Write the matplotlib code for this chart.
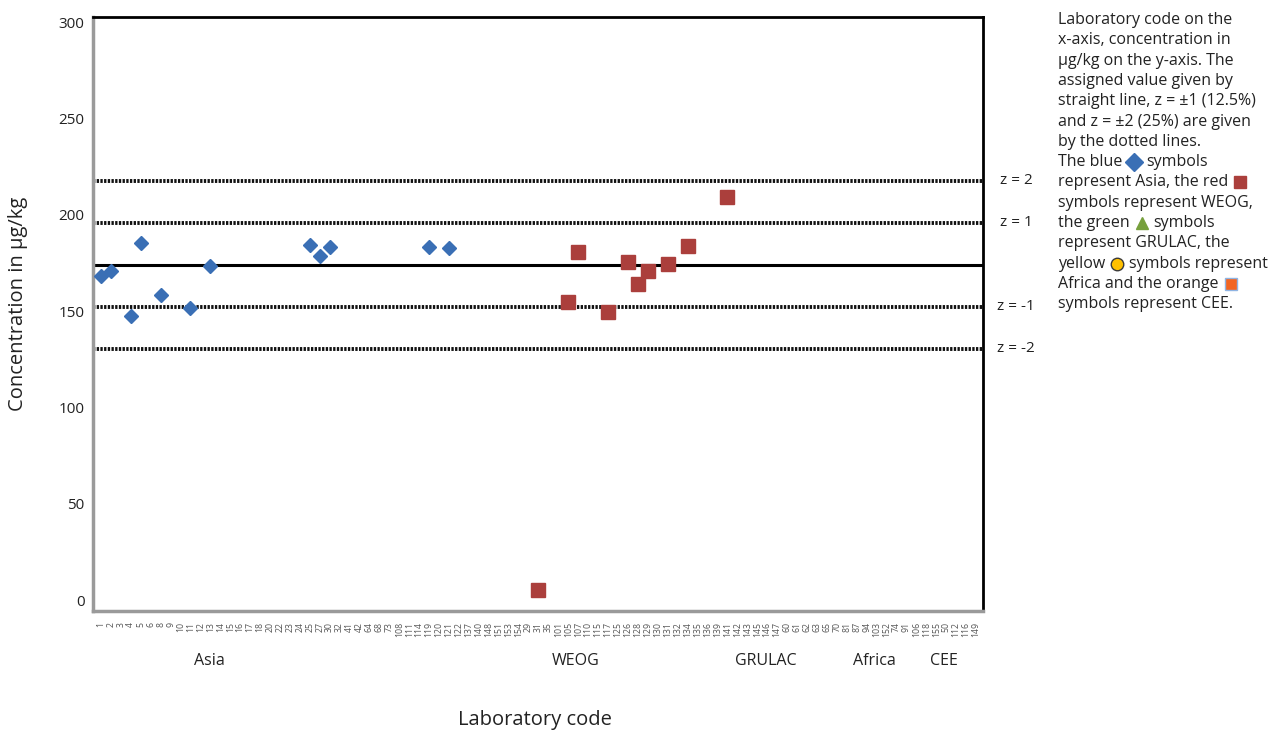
import matplotlib
matplotlib.use("Agg")
import matplotlib.pyplot as plt

plt.rcParams['font.family'] = ['Open Sans', 'DejaVu Sans']

# Laboratory codes in x-axis order
lab_codes = ["1", "2", "3", "4", "5", "6", "8", "9", "10", "11", "12", "13", "14", "15", "16",
             "17", "18", "20", "22", "23", "24", "25", "27", "30", "32", "41", "42", "64", "68",
             "73", "108", "111", "114", "119", "120", "121", "122", "137", "140", "148", "151",
             "153", "154", "29", "31", "35", "101", "105", "107", "110", "115", "117", "125",
             "126", "128", "129", "130", "131", "132", "134", "135", "136", "139", "141", "142",
             "143", "145", "146", "147", "60", "61", "62", "63", "65", "70", "81", "87", "94",
             "103", "152", "74", "91", "106", "118", "155", "50", "112", "116", "149"]

# Asia results (blue diamonds)
asia_labs = ["1", "2", "4", "5", "8", "11", "13", "25", "27", "30", "119", "121"]
asia_vals = [168.1, 170.7, 147.4, 185.3, 158.3, 151.5, 173.3, 184.2, 178.5, 183.2, 183.2, 182.7]

# WEOG results (red squares)
weog_labs = ["31", "105", "107", "117", "126", "128", "129", "131", "134", "141"]
weog_vals = [5.2, 154.6, 180.6, 149.5, 175.4, 164.0, 170.7, 174.4, 183.7, 209.1]

assigned_value = 174.0
z_labels = ["z = 2", "z = 1", "z = -1", "z = -2"]
z_fracs = [0.25, 0.125, -0.125, -0.25]

groups = ["Asia", "WEOG", "GRULAC", "Africa", "CEE"]
group_pos = [11.9, 48.7, 67.9, 78.8, 85.8]

W, H = 1269, 731
fig = plt.figure(figsize=(W / 100, H / 100), dpi=100)
ax = fig.add_axes([93 / W, 1 - 611 / H, (983 - 93) / W, (611 - 17) / H])

pos = {c: i + 1 for i, c in enumerate(lab_codes)}

ax.axhline(assigned_value, color='black', lw=2.2, zorder=1)
for f in z_fracs:
    ax.axhline(assigned_value * (1 + f), color='#111111', lw=2.8,
               linestyle=(0, (0.6, 0.35)), zorder=1)

ax.plot([pos[c] for c in asia_labs], asia_vals, linestyle='none', marker='D',
        markersize=7.0, color='#3a6fb5', markeredgecolor='#3a6fb5', zorder=3)
ax.plot([pos[c] for c in weog_labs], weog_vals, linestyle='none', marker='s',
        markersize=9.6, color='#ab3f3c', markeredgecolor='#ab3f3c', zorder=3)

ax.set_xlim(0.2, 89.7)
ax.set_ylim(-5.7, 302.6)
ax.set_xticks(range(1, len(lab_codes) + 1))
ax.set_xticklabels(lab_codes, rotation=90, fontsize=6.3, color='#555555')
ax.set_yticks([0, 50, 100, 150, 200, 250, 300])
ax.tick_params(axis='y', length=0, labelsize=11, pad=6, colors='#222222')
ax.tick_params(axis='x', length=0, pad=8)

for s in ['left', 'bottom']:
    ax.spines[s].set_color('#9a9a9a')
    ax.spines[s].set_linewidth(2.5)
for s in ['top', 'right']:
    ax.spines[s].set_color('black')
    ax.spines[s].set_linewidth(2.0)

gy = -(661 - 611) / (611 - 17)
for gname, gx in zip(groups, group_pos):
    ax.text(gx, gy, gname, transform=ax.get_xaxis_transform(), fontsize=11.5,
            ha='center', va='center', color='#222222')

for lbl, f in zip(z_labels, z_fracs):
    ax.annotate(lbl, xy=(1, assigned_value * (1 + f)), xycoords=('axes fraction', 'data'),
                xytext=(24, 0), textcoords='offset points', ha='center', va='center',
                fontsize=11, color='#222222', annotation_clip=False)

fig.text(535 / W, 1 - 720 / H, "Laboratory code", fontsize=14.5, ha='center', va='center',
         color='#222222')
fig.text(18 / W, 1 - 304 / H, "Concentration in µg/kg", fontsize=14.5, ha='center',
         va='center', rotation=90, color='#222222')

desc_lines = [
    ("Laboratory code on the", None, ""),
    ("x-axis, concentration in", None, ""),
    ("µg/kg on the y-axis. The", None, ""),
    ("assigned value given by", None, ""),
    ("straight line, z = ±1 (12.5%)", None, ""),
    ("and z = ±2 (25%) are given", None, ""),
    ("by the dotted lines.", None, ""),
    ("The blue", ("D", '#3a6fb5', '#3a6fb5'), "symbols"),
    ("represent Asia, the red", ("s", '#ab3f3c', '#ab3f3c'), ""),
    ("symbols represent WEOG,", None, ""),
    ("the green", ("^", '#77a03d', '#77a03d'), "symbols"),
    ("represent GRULAC, the", None, ""),
    ("yellow", ("o", '#ffc000', '#3a3a3a'), "symbols represent"),
    ("Africa and the orange", ("s", '#f26522', '#8fb4e3'), ""),
    ("symbols represent CEE.", None, ""),
]
y0 = 20
dy = 20.3
fs = 11.5
fig.canvas.draw()
renderer = fig.canvas.get_renderer()
for i, (pre, sym, post) in enumerate(desc_lines):
    yf = 1 - (y0 + i * dy) / H
    t = fig.text(1058 / W, yf, pre, fontsize=fs, ha='left', va='center', color='#222222')
    if sym is None:
        continue
    bb = t.get_window_extent(renderer=renderer)
    sx = bb.x1 + 12
    m, fc, ec = sym
    fig.add_artist(plt.Line2D([sx / W], [yf], marker=m, markersize=9,
                              markerfacecolor=fc, markeredgecolor=ec, markeredgewidth=1.0,
                              linestyle='none', transform=fig.transFigure))
    if post:
        fig.text((sx + 12) / W, yf, post, fontsize=fs, ha='left', va='center',
                 color='#222222')

fig.savefig("out.png", dpi=100)
